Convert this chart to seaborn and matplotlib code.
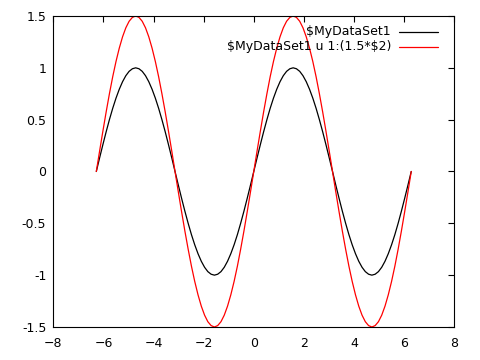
import numpy as np
import pandas as pd
import matplotlib
matplotlib.use('Agg')
import matplotlib.pyplot as plt
import seaborn as sns

x_vals = [-6.283, -6.152, -6.021, -5.890, -5.760, -5.629, -5.498, -5.367, -5.236, -5.105,
          -4.974, -4.843, -4.712, -4.581, -4.451, -4.320, -4.189, -4.058, -3.927, -3.796,
          -3.665, -3.534, -3.403, -3.272, -3.142, -3.011, -2.880, -2.749, -2.618, -2.487,
          -2.356, -2.225, -2.094, -1.963, -1.833, -1.702, -1.571, -1.440, -1.309, -1.178,
          -1.047, -0.916, -0.785, -0.654, -0.524, -0.393, -0.262, -0.131, 0.000,
          0.131, 0.262, 0.393, 0.524, 0.654, 0.785, 0.916, 1.047, 1.178, 1.309,
          1.440, 1.571, 1.702, 1.833, 1.963, 2.094, 2.225, 2.356, 2.487, 2.618,
          2.749, 2.880, 3.011, 3.142, 3.272, 3.403, 3.534, 3.665, 3.796, 3.927,
          4.058, 4.189, 4.320, 4.451, 4.581, 4.712, 4.843, 4.974, 5.105, 5.236,
          5.367, 5.498, 5.629, 5.760, 5.890, 6.021, 6.152, 6.283]
y_vals = [0.000, 0.131, 0.259, 0.383, 0.500, 0.609, 0.707, 0.793, 0.866, 0.924,
          0.966, 0.991, 1.000, 0.991, 0.966, 0.924, 0.866, 0.793, 0.707, 0.609,
          0.500, 0.383, 0.259, 0.131, 0.000, -0.131, -0.259, -0.383, -0.500, -0.609,
          -0.707, -0.793, -0.866, -0.924, -0.966, -0.991, -1.000, -0.991, -0.966, -0.924,
          -0.866, -0.793, -0.707, -0.609, -0.500, -0.383, -0.259, -0.131, 0.000,
          0.131, 0.259, 0.383, 0.500, 0.609, 0.707, 0.793, 0.866, 0.924, 0.966,
          0.991, 1.000, 0.991, 0.966, 0.924, 0.866, 0.793, 0.707, 0.609, 0.500,
          0.383, 0.259, 0.131, 0.000, -0.131, -0.259, -0.383, -0.500, -0.609, -0.707,
          -0.793, -0.866, -0.924, -0.966, -0.991, -1.000, -0.991, -0.966, -0.924, -0.866,
          -0.793, -0.707, -0.609, -0.500, -0.383, -0.259, -0.131, 0.000]
scale = 1.5
labels = [r'\$MyDataSet1', r'\$MyDataSet1 u 1:(1.5*\$2)']
colors = ['black', 'red']
x_ticks = [-8, -6, -4, -2, 0, 2, 4, 6, 8]
y_ticks = [-1.5, -1, -0.5, 0, 0.5, 1, 1.5]
y_tick_labels = ['-1.5', '-1', '-0.5', '0', '0.5', '1', '1.5']

df = pd.DataFrame({'x': x_vals, 'y': y_vals})
df['y2'] = scale * df['y']

sns.set_style('white')
plt.rcParams['font.family'] = ['DejaVu Sans']
plt.rcParams['font.size'] = 9
plt.rcParams['text.color'] = 'black'

fig = plt.figure(figsize=(4.8, 3.6), dpi=100)
ax = fig.add_axes([0.111, 0.0917, 0.8354, 0.8639])

sns.lineplot(data=df, x='x', y='y', color=colors[0], lw=0.9, sort=False,
             estimator=None, ax=ax)
sns.lineplot(data=df, x='x', y='y2', color=colors[1], lw=0.9, sort=False,
             estimator=None, ax=ax)

ax.set_xlim(-8, 8)
ax.set_ylim(-1.5, 1.5)
ax.set_xticks(x_ticks)
ax.set_yticks(y_ticks)
ax.set_yticklabels(y_tick_labels)
ax.set_xlabel('')
ax.set_ylabel('')
ax.tick_params(direction='in', length=4.5, width=0.8, colors='black',
               top=True, right=True, labelsize=9)
ax.tick_params(axis='x', pad=7)
ax.tick_params(axis='y', pad=5)
for s in ax.spines.values():
    s.set_color('black')
    s.set_linewidth(0.8)

# gnuplot-style key: right aligned text, sample line after it
for i, (lab, c) in enumerate(zip(labels, colors)):
    yy = 0.9495 - i * 0.0485
    ax.text(0.842, yy, lab, transform=ax.transAxes, ha='right', va='center',
            fontsize=9, color='black')
    ax.plot([0.862, 0.959], [yy, yy], transform=ax.transAxes, color=c, lw=0.9)

fig.savefig('out.png', dpi=100)
